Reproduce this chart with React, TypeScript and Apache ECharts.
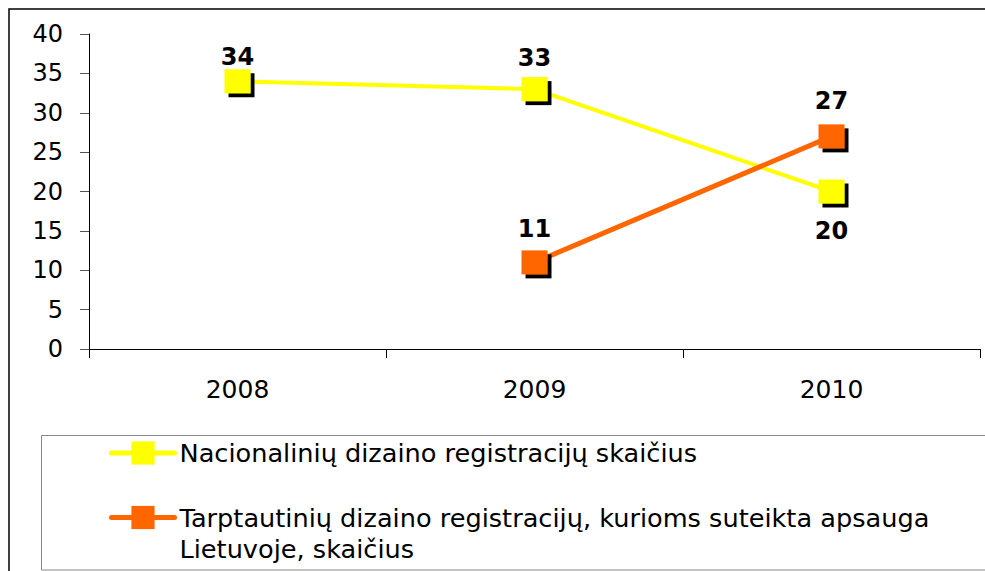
import React, { useEffect, useRef } from "react";
import * as echarts from "echarts";

const categories = ["2008", "2009", "2010"];
const nationalName = "Nacionalinių dizaino registracijų skaičius";
const internationalName = "Tarptautinių dizaino registracijų, kurioms suteikta apsauga\nLietuvoje, skaičius";
const nationalValues: (number | null)[] = [34, 33, 20];
const internationalValues: (number | null)[] = [null, 11, 27];
const yTicks = { min: 0, max: 40, interval: 5 };

const FONT = "DejaVu Sans";

export default function App() {
  const ref = useRef<HTMLDivElement>(null);
  useEffect(() => {
    if (!ref.current) return;
    const chart = echarts.init(ref.current, undefined, { renderer: "svg" });
    const shadow = { shadowColor: "#000", shadowOffsetX: 4, shadowOffsetY: 4, shadowBlur: 0 };
    const labelBase = { show: true, fontFamily: FONT, fontWeight: "bold" as const, fontSize: 24, color: "#000" };
    // per-point label placement (style only)
    const natLabel = [
      { position: "top", distance: 0 },
      { position: "top", distance: 7 },
      { position: "bottom", distance: 15 },
    ];
    const intLabel = [
      { position: "top", distance: 0 },
      { position: "top", distance: 9 },
      { position: "top", distance: 11 },
    ];
    const build = (vals: (number | null)[], lbl: any[]) =>
      vals.map((v, i) => (v == null ? "-" : { value: v, label: { ...labelBase, ...lbl[i] } }));

    const legendCommon = {
      orient: "vertical",
      left: 109,
      padding: 0,
      itemWidth: 63,
      itemHeight: 29,
      itemGap: 0,
      selectedMode: false,
      lineStyle: { width: 5, cap: "round" },
      itemStyle: { shadowColor: "transparent", shadowBlur: 0, shadowOffsetX: 0, shadowOffsetY: 0 },
    };

    chart.setOption({
      animation: false,
      backgroundColor: "#fff",
      grid: { left: 89, right: 5, top: 34, bottom: 222, containLabel: false },
      xAxis: {
        type: "category",
        data: categories,
        boundaryGap: true,
        axisLine: { lineStyle: { color: "#000", width: 1 } },
        axisTick: { show: true, length: 9, lineStyle: { color: "#000" } },
        axisLabel: { fontFamily: FONT, fontSize: 25, color: "#000", margin: 28 },
        splitLine: { show: false },
      },
      yAxis: {
        type: "value",
        min: yTicks.min,
        max: yTicks.max,
        interval: yTicks.interval,
        axisLine: { show: true, lineStyle: { color: "#000", width: 1 } },
        axisTick: { show: true, length: 9, lineStyle: { color: "#555" } },
        axisLabel: { fontFamily: FONT, fontSize: 24, color: "#000", margin: 26 },
        splitLine: { show: false },
      },
      legend: [
        {
          ...legendCommon,
          data: [{ name: nationalName }],
          top: 440,
          textStyle: { fontFamily: FONT, fontSize: 25.6, color: "#000" },
        },
        {
          ...legendCommon,
          data: [{ name: internationalName }],
          top: 471,
          formatter: (name: string) => "\n" + name,
          textStyle: { fontFamily: FONT, fontSize: 25.6, color: "#000", lineHeight: 31 },
        },
      ],
      graphic: [
        {
          type: "rect",
          shape: { x: 9, y: 9, width: 1100, height: 700 },
          style: { fill: "none", stroke: "#000", lineWidth: 1.5 },
          silent: true,
          z: -1,
        },
        {
          type: "rect",
          shape: { x: 41.5, y: 435.5, width: 1100, height: 134.5 },
          style: { fill: "none", stroke: "#888", lineWidth: 1 },
          silent: true,
          z: -1,
        },
      ],
      series: [
        {
          name: nationalName,
          type: "line",
          data: build(nationalValues, natLabel),
          symbol: "rect",
          symbolSize: [26, 24],
          showAllSymbol: true,
          connectNulls: false,
          lineStyle: { color: "#FFFF00", width: 4 },
          itemStyle: { color: "#FFFF00", ...shadow },
        },
        {
          name: internationalName,
          type: "line",
          data: build(internationalValues, intLabel),
          symbol: "rect",
          symbolSize: [26, 24],
          showAllSymbol: true,
          connectNulls: false,
          lineStyle: { color: "#FF6600", width: 5 },
          itemStyle: { color: "#FF6600", ...shadow },
        },
      ],
    });
    return () => chart.dispose();
  }, []);
  return (
    <div
      ref={ref}
      style={{ position: "absolute", left: 0, top: 0, width: 985, height: 571 }}
    />
  );
}
